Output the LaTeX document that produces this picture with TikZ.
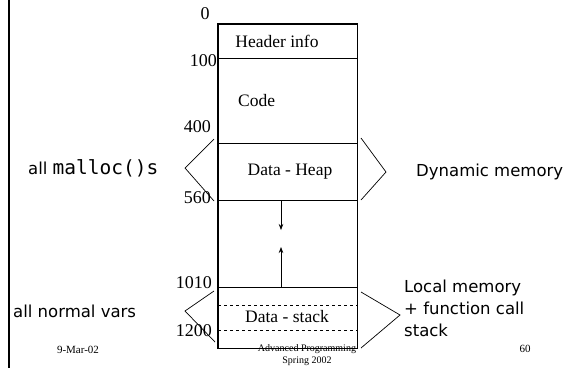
\documentclass[tikz,border=0pt]{standalone}
\usepackage{fontspec}
\setmainfont{Liberation Serif}
\newfontfamily\sansf{DejaVu Sans}
\newfontfamily\monof{DejaVu Sans Mono}
\usetikzlibrary{arrows.meta}
\tikzset{
  region/.style={draw, line width=0.7pt, minimum width=139pt, inner sep=0pt, anchor=center},
  addr/.style={font=\fontsize{18}{20}\selectfont, inner sep=0pt, anchor=east},
  boxtxt/.style={font=\fontsize{17.5}{20}\selectfont, inner sep=0pt},
  side/.style={font=\sansf\fontsize{16.5}{22}\selectfont, inner sep=0pt, align=left},
  foot/.style={font=\fontsize{11}{12.5}\selectfont, inner sep=0pt, align=center},
  brace/.style={line width=0.7pt},
  growarrow/.style={line width=0.7pt, -{Stealth[length=6pt,width=4.5pt]}}
}
\begin{document}
\begin{tikzpicture}[x=1pt,y=-1pt]
\useasboundingbox (0,0) rectangle (568,368);
% left page rule
\draw[line width=2pt] (9,0) -- (9,368);
% memory regions
\node[region, minimum height=34pt] (header) at (287.5,41) {};
\node[region, minimum height=85pt] (code) at (287.5,100.5) {};
\node[region, minimum height=57pt] (heap) at (287.5,171.5) {};
\node[region, minimum height=87pt] (free) at (287.5,243.5) {};
\node[region, minimum height=61pt] (stack) at (287.5,317.5) {};
\draw[line width=1.6pt] (header.north west) rectangle (stack.south east);
\draw[dashed, line width=0.6pt] (218,305) -- (357,305);
\draw[dashed, line width=0.6pt] (218,330) -- (357,330);
% region texts
\node[boxtxt] (thead) at (277,41) {Header info};
\node[boxtxt, anchor=west] (tcode) at (238,101) {Code};
\node[boxtxt] (theap) at (290,172) {Data - Heap};
\node[boxtxt] (tstack) at (287,317) {Data - stack};
% growth arrows
\coordinate (hp) at (281,200);
\coordinate (hpend) at (281,230);
\coordinate (sp) at (281,287);
\coordinate (spend) at (281,247);
\draw[growarrow] (hp) -- (hpend);
\draw[growarrow] (sp) -- (spend);
% addresses
\node[addr, anchor=center] (a0) at (205,14) {0};
\node[addr] (a100) at (217,61) {100};
\node[addr] (a400) at (211,127) {400};
\node[addr] (a560) at (211,198) {560};
\node[addr] (a1010) at (212,283) {1010};
\node[addr] (a1200) at (212,331) {1200};
% brackets
\draw[brace] (214,139) -- (185,168) -- (214,201);
\draw[brace] (361,138) -- (386,172) -- (361,200);
\draw[brace] (214,291) -- (185,311) -- (215,342);
\draw[brace] (361,292) -- (400,315) -- (361,348);
% side texts
\node[side, anchor=west] (lheap) at (28,168) {all {\monof\fontsize{19.5}{20}\selectfont malloc()s}};
\node[side, anchor=west] (rheap) at (416,172) {Dynamic memory};
\node[side, anchor=west] (lstack) at (13,311) {all normal vars};
\node[side, anchor=north west, align=left] (rstack) at (404,280) {Local memory\\+ function call\\stack};
% footer
\node[foot] (fdate) at (78,350) {9-Mar-02};
\node[foot, font=\fontsize{10}{12}\selectfont] (fcourse) at (307,355) {Advanced Programming\\Spring 2002};
\node[foot] (fpage) at (525,349) {60};
\end{tikzpicture}
\end{document}
